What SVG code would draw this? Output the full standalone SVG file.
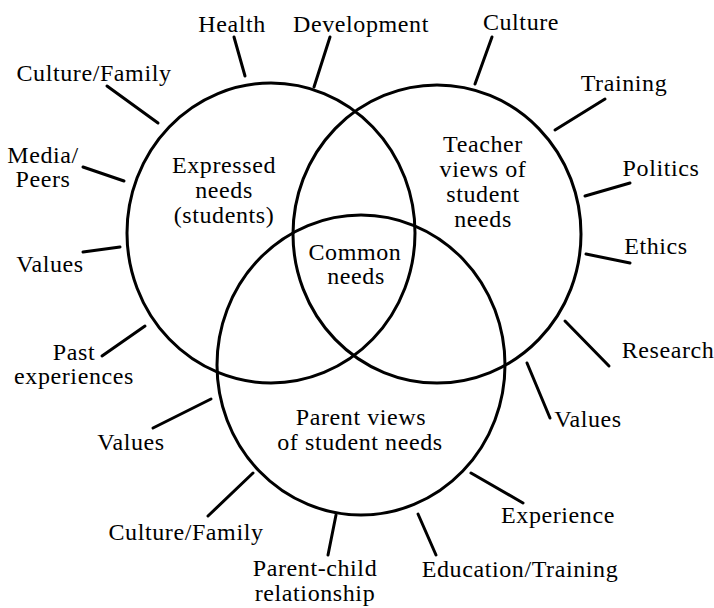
<svg xmlns="http://www.w3.org/2000/svg" width="714" height="608" viewBox="0 0 714 608">
<style>
.c{fill:none;stroke:#000;stroke-width:3}
.l{stroke:#000;stroke-width:3;stroke-linecap:round}
text{font-size:24px;fill:#000;text-anchor:middle;letter-spacing:0.6px}
</style>
<rect width="714" height="608" fill="#fff"/>
<g font-family="Liberation Serif, DejaVu Serif, serif">
<g id="expressed">
<ellipse class="c" cx="271" cy="233" rx="144" ry="150"/>
<text x="224" y="173">Expressed</text>
<text x="224" y="198">needs</text>
<text x="224" y="223">(students)</text>
</g>
<g id="teacher">
<ellipse class="c" cx="437" cy="234" rx="144" ry="149"/>
<text x="483" y="152">Teacher</text>
<text x="483" y="177">views of</text>
<text x="483" y="202">student</text>
<text x="483" y="227">needs</text>
</g>
<g id="parent">
<ellipse class="c" cx="361" cy="365" rx="144" ry="150"/>
<text x="361" y="425">Parent views</text>
<text x="360" y="450">of student needs</text>
</g>
<g id="common">
<text x="355" y="260">Common</text>
<text x="356" y="284">needs</text>
</g>
<g id="connectors">
<line class="l" x1="234" y1="37" x2="245" y2="76"/>
<line class="l" x1="330" y1="37" x2="314" y2="87"/>
<line class="l" x1="107" y1="86" x2="158" y2="123"/>
<line class="l" x1="83" y1="167" x2="124" y2="181"/>
<line class="l" x1="83" y1="252" x2="120" y2="247"/>
<line class="l" x1="102" y1="356" x2="145" y2="326"/>
<line class="l" x1="492" y1="37" x2="475" y2="84"/>
<line class="l" x1="605" y1="99" x2="555" y2="130"/>
<line class="l" x1="630" y1="183" x2="585" y2="196"/>
<line class="l" x1="586" y1="254" x2="630" y2="263"/>
<line class="l" x1="565" y1="321" x2="609" y2="366"/>
<line class="l" x1="527" y1="363" x2="550" y2="418"/>
<line class="l" x1="153" y1="428" x2="211" y2="399"/>
<line class="l" x1="208" y1="516" x2="253" y2="473"/>
<line class="l" x1="328" y1="555" x2="336" y2="515"/>
<line class="l" x1="418" y1="514" x2="436" y2="555"/>
<line class="l" x1="471" y1="473" x2="523" y2="503"/>
</g>
<g id="labels">
<text x="232" y="32">Health</text>
<text x="361" y="32">Development</text>
<text x="521" y="30">Culture</text>
<text x="94" y="81">Culture/Family</text>
<text x="624" y="91">Training</text>
<text x="43" y="163">Media/</text>
<text x="43" y="187">Peers</text>
<text x="661" y="176">Politics</text>
<text x="656" y="254">Ethics</text>
<text x="50" y="272">Values</text>
<text x="668" y="358">Research</text>
<text x="74" y="360">Past</text>
<text x="74" y="384">experiences</text>
<text x="588" y="427">Values</text>
<text x="131" y="450">Values</text>
<text x="558" y="523">Experience</text>
<text x="186" y="540">Culture/Family</text>
<text x="520" y="577">Education/Training</text>
<text x="315" y="576">Parent-child</text>
<text x="315" y="601">relationship</text>
</g>
</g>
</svg>
